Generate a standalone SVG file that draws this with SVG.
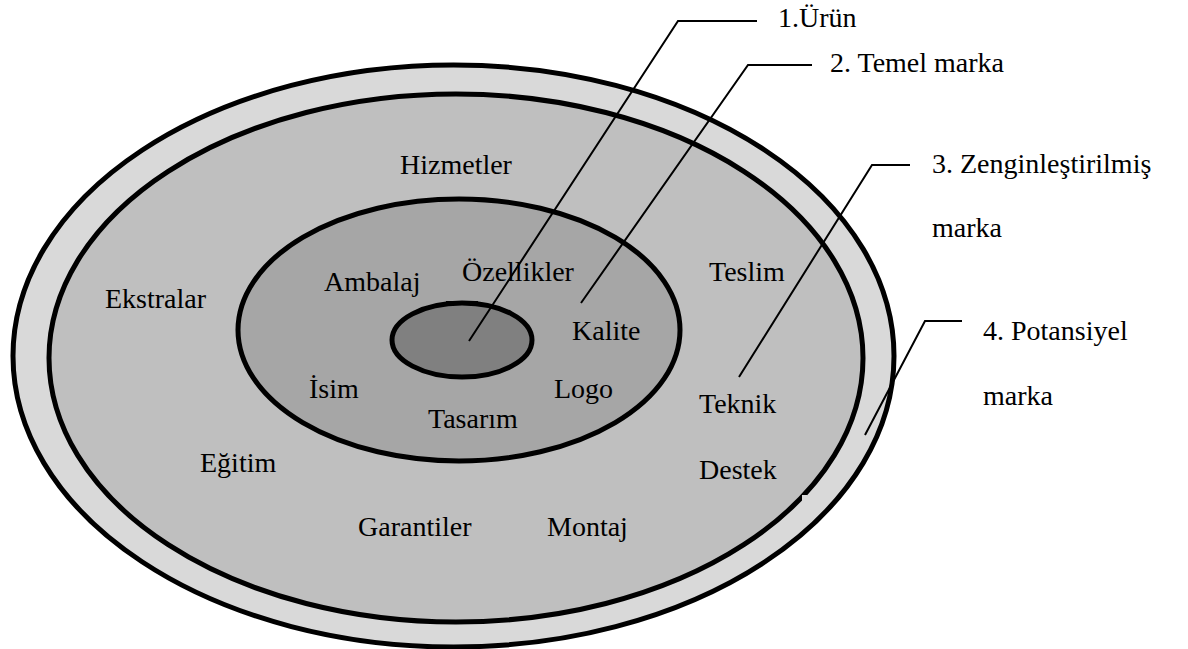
<svg xmlns="http://www.w3.org/2000/svg" width="1188" height="649" viewBox="0 0 1188 649">
  <style>
    .ring { stroke: #000; stroke-width: 5; }
    text { font-family: 'Liberation Serif', 'DejaVu Serif', serif; font-size: 28px; fill: #000; }
    .lead { fill: none; stroke: #000; stroke-width: 2; }
  </style>
  <rect width="1188" height="649" fill="#fff"/>

  <!-- 4. Potansiyel marka -->
  <g id="potansiyel">
    <ellipse class="ring" cx="453.5" cy="356" rx="440.5" ry="291" fill="#d9d9d9"/>
  </g>

  <!-- 3. Zenginleştirilmiş marka -->
  <g id="zenginlestirilmis">
    <ellipse class="ring" cx="456" cy="358" rx="407" ry="264" fill="#bfbfbf"/>
    <rect x="802" y="495" width="5" height="6" fill="#d9d9d9"/>
    <text x="400" y="174">Hizmetler</text>
    <text x="105" y="308">Ekstralar</text>
    <text x="709" y="281">Teslim</text>
    <text x="699" y="413">Teknik</text>
    <text x="699" y="479">Destek</text>
    <text x="200" y="472">Eğitim</text>
    <text x="358" y="536">Garantiler</text>
    <text x="547" y="536">Montaj</text>
  </g>

  <!-- 2. Temel marka -->
  <g id="temel">
    <ellipse class="ring" cx="459" cy="330" rx="221" ry="131" fill="#a6a6a6"/>
    <text x="324" y="291">Ambalaj</text>
    <text x="462" y="281">Özellikler</text>
    <text x="572" y="340">Kalite</text>
    <text x="309" y="398">İsim</text>
    <text x="554" y="398">Logo</text>
    <text x="428" y="428">Tasarım</text>
  </g>

  <!-- 1. Ürün -->
  <g id="urun">
    <ellipse class="ring" cx="462" cy="340" rx="70" ry="37" fill="#808080"/>
    <path d="M446 302.5 L478 302.5" stroke="#000" stroke-width="3"/>
  </g>

  <!-- leader lines -->
  <g id="connectors">
    <polyline class="lead" points="469,341 678,21 757,21"/>
    <polyline class="lead" points="581,303 748,65 812,65"/>
    <polyline class="lead" points="739,377 872,165 910,165"/>
    <polyline class="lead" points="865,435 925,321 962,321"/>
  </g>

  <!-- layer titles -->
  <g id="titles">
    <text x="778" y="27">1.Ürün</text>
    <text x="830" y="72">2. Temel marka</text>
    <text x="932" y="173">3. Zenginleştirilmiş</text>
    <text x="932" y="237">marka</text>
    <text x="983" y="340">4. Potansiyel</text>
    <text x="983" y="405">marka</text>
  </g>
</svg>
